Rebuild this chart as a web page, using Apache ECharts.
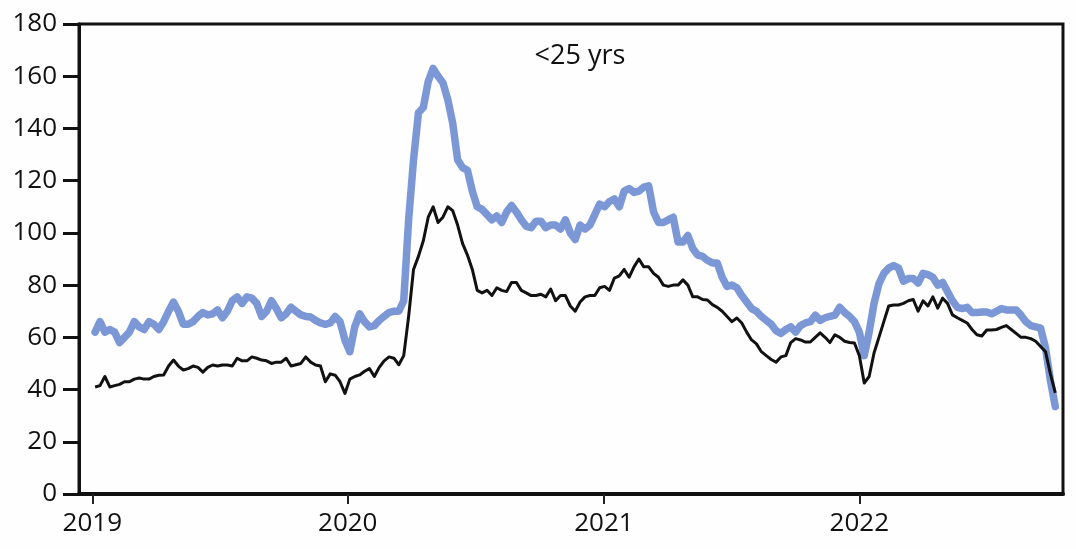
<!DOCTYPE html>
<html>
<head>
<meta charset="utf-8">
<script src="https://cdn.jsdelivr.net/npm/echarts@6/dist/echarts.min.js"></script>
<style>
html,body{margin:0;padding:0;background:#fdfefd;}
#c{width:1076px;height:549px;}
</style>
</head>
<body>
<div id="c"></div>
<script>
// Weekly series, first week ending 2019-01-05
const firstWeek = [2019, 0, 5];
const yearTicks = [2019, 2020, 2021, 2022];
const yTicks = [0, 20, 40, 60, 80, 100, 120, 140, 160, 180];
const title = '<25 yrs';

const blueValues = [
62,66,62,63,62,58,60,62,66,64,63,66,65,63,66,70,73.5,70,65,65,
66,68,69.5,68.6,69,70.5,67.5,70,74,75.5,73,75.5,75,73,68,70,74,71,67.5,69,
71.5,70,68.6,68,67.8,66.5,65.5,65,65.5,68,66,59,54.5,64,69,66,64,64.5,66.5,68,
69.5,70,70,74,105,128,146,148,158,163,160,157.5,151,142,128,125,124,116,110,109,
107,105,106.5,104,108,110.5,108,105,102.5,102,104.5,104.5,102,103,103,101.5,105,100,97.5,103,
101.5,103,107,111,110,112,113,110,116,117,115.5,116,117.5,118,108,104,104,105,106,96.5,
96.5,99,94,91.5,91,89.5,88.5,88.5,83,79.5,80,79,76,73.5,71,70,68,66.5,65,62.5,
61.5,63,64,62,64.5,65.5,66,68.5,66.5,67.5,68,68.5,71.5,69.5,68,66,62,53,62,73,
80.5,84.5,86.5,87.5,86.5,81.5,82.5,82.5,80.8,84.5,84,83,80,81,77.5,74,71.5,71,71.5,69.5,
69.5,69.7,69.7,69,70,71,70.5,70.5,70.5,68.5,66,64.5,64,63.5,56,43.5,33.5
];

const blackValues = [
41,41.5,45,41,41.5,42,43,43,44,44.4,44,44,45,45.5,45.6,49,51.3,49,47.5,48,
49,48.5,46.7,48.5,49.4,49,49.4,49.4,49,52,51,51,52.5,52,51.3,51,50,50.5,50.5,52,
49,49.5,50,52.5,50.5,49.4,49,43,46,45.5,43,38.5,44,45,45.6,47,48,45,48.5,51,
52.5,52,49.5,53,68,86,91,97,106,110,104,106,110,108.5,103,96,91.5,86,78,77,
78,76,79,78,77.5,81,81,78,77,76,76,76.5,75.5,78.5,74,76,76,72,70,73.5,
75.5,76,76,79,79.5,78,82.7,83.5,86,83,87,90,87,87,84.5,83,80,79.5,80,80,
82,80,75.5,75.5,74.5,74.3,72.5,71.5,70,68,66,67.4,65.5,62,59,57.5,54.5,53,51.5,50.5,
52.5,53,58,59.5,59,58.2,58.2,60,61.7,60,58,61,60,58.5,58,57.8,53,42.5,45,54,
60,66,72,72.4,72.4,73,74,74.5,70,74,72,75.5,71.2,75,73,68.6,67.5,66.5,65.5,63,
61,60.5,62.8,62.8,63,63.8,64.5,63,61.5,60,60,59.5,58.5,56.5,54.5,46,38.7
];

function weekDate(i) {
  return new Date(firstWeek[0], firstWeek[1], firstWeek[2] + 7 * i).getTime();
}
const blueData = blueValues.map((v, i) => [weekDate(i), v]);
const blackData = blackValues.map((v, i) => [weekDate(i), v]);
const yearStamps = yearTicks.map(y => new Date(y, 0, 1).getTime());

const chart = echarts.init(document.getElementById('c'), null, {renderer: 'canvas'});
const font = '"Open Sans", "Noto Sans", sans-serif';
chart.setOption({
  backgroundColor: '#fdfefd',
  animation: false,
  title: {
    text: title,
    left: 575, top: 38, textAlign: 'center',
    textStyle: {fontFamily: font, fontSize: 27, fontWeight: 500, color: '#111'}
  },
  grid: {
    left: 79, right: 13, top: 24, bottom: 55,
    show: true, borderColor: '#111', borderWidth: 3, backgroundColor: 'transparent'
  },
  xAxis: {
    type: 'value',
    min: new Date(2018, 11, 13).getTime(),
    max: new Date(2022, 9, 19).getTime(),
    splitLine: {show: false},
    axisLine: {show: true, lineStyle: {color: '#111', width: 4}},
    axisTick: {show: true, customValues: yearStamps, length: 10, lineStyle: {color: '#222', width: 2}},
    axisLabel: {
      customValues: yearStamps,
      formatter: v => String(new Date(v).getFullYear()),
      fontFamily: font, fontSize: 26, fontWeight: 500, color: '#111', margin: 17
    }
  },
  yAxis: {
    type: 'value', min: 0, max: 180, interval: 20,
    splitLine: {show: false},
    axisLine: {show: true, lineStyle: {color: '#111', width: 3}},
    axisTick: {show: true, inside: false, length: 16, lineStyle: {color: '#111', width: 3}},
    axisLabel: {fontFamily: font, fontSize: 26, fontWeight: 500, color: '#111', margin: 22}
  },
  series: [
    {
      type: 'line', data: blueData, showSymbol: false,
      lineStyle: {color: '#7b97d6', width: 7.5, join: 'round', cap: 'round'},
      z: 2
    },
    {
      type: 'line', data: blackData, showSymbol: false,
      lineStyle: {color: '#111', width: 3, join: 'round'},
      z: 3
    }
  ]
});
</script>
</body>
</html>
